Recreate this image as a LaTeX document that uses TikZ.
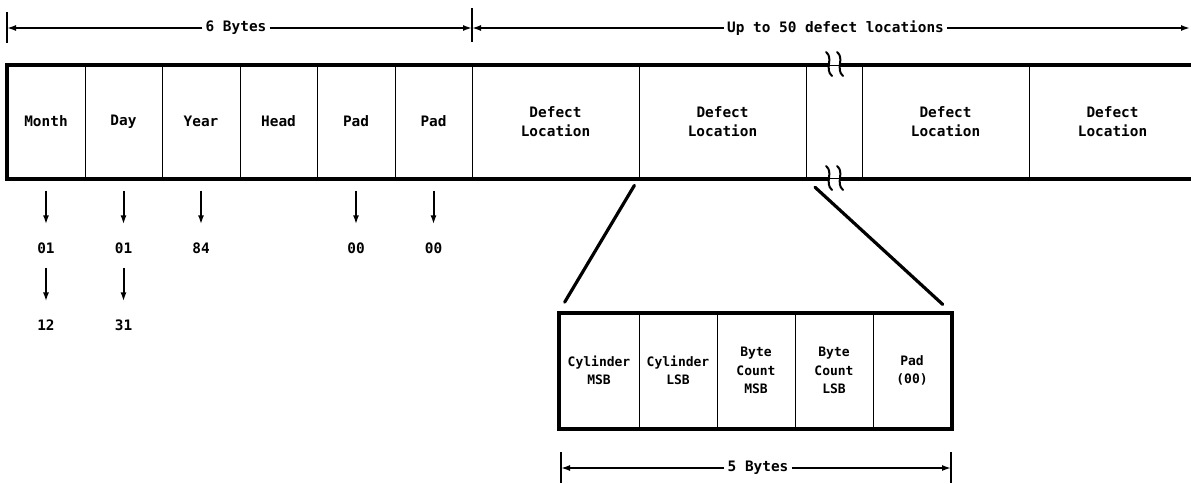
\documentclass[tikz,border=0pt]{standalone}
\usepackage{fontspec}
\usepackage{tikz}
\usetikzlibrary{arrows.meta}
\newfontfamily\dotfont{DejaVu Sans Mono}

\tikzset{
  cell/.style={draw, line width=1pt, minimum height=113pt, inner sep=0pt, align=center, font=\dotfont\bfseries\fontsize{14.4}{19}\selectfont},
  subcell/.style={draw, line width=1pt, minimum height=115pt, inner sep=0pt, align=center, font=\dotfont\bfseries\fontsize{13}{18.5}\selectfont},
  border/.style={line width=4pt},
  value/.style={font=\dotfont\bfseries\fontsize{14.4}{17}\selectfont, inner sep=2pt},
  valarrow/.style={line width=2pt, -{Latex[length=9pt,width=6pt]}, shorten <=12pt, shorten >=16pt},
  dimlabel/.style={font=\dotfont\bfseries\fontsize{14.4}{17}\selectfont, inner sep=3pt},
  dimarrow/.style={line width=1.6pt, -{Latex[length=9pt,width=6pt]}},
  tick/.style={line width=1.6pt},
  zoomline/.style={line width=3.2pt, line cap=round},
  breakmark/.style={line width=2pt, line cap=round}
}

\begin{document}
\begin{tikzpicture}[x=1pt, y=-1pt]
\useasboundingbox (0,0) rectangle (1191,483);
\clip (0,0) rectangle (1191,483);
% record layout
\node[cell, minimum width=78pt] (month) at (46,121.5) {Month};
\node[cell, minimum width=77pt] (day) at (123.5,121.5) {Day};
\node[cell, minimum width=78pt] (year) at (201,121.5) {Year};
\node[cell, minimum width=77pt] (head) at (278.5,121.5) {Head};
\node[cell, minimum width=78pt] (pada) at (356,121.5) {Pad};
\node[cell, minimum width=77pt] (padb) at (433.5,121.5) {Pad};
\node[cell, minimum width=167pt] (dla) at (555.5,121.5) {Defect\\Location};
\node[cell, minimum width=167pt] (dlb) at (722.5,121.5) {Defect\\Location};
\node[cell, minimum width=56pt] (gap) at (834,121.5) {};
\node[cell, minimum width=167pt] (dlc) at (945.5,121.5) {Defect\\Location};
\node[cell, minimum width=167pt] (dld) at (1112.5,121.5) {Defect\\Location};
\draw[border] ([xshift=-6pt]gap.north) -- (month.north west) -- (month.south west) -- ([xshift=-6pt]gap.south);
\draw[border] ([xshift=6pt]gap.north) -- (dld.north east);
\draw[border] ([xshift=6pt]gap.south) -- (dld.south east);
\foreach \bx in {829,840} {
  \draw[breakmark] (\bx-3,52) .. controls (\bx+5,58) and (\bx-5,69) .. (\bx+3,76);
  \draw[breakmark] (\bx-3,166) .. controls (\bx+5,172) and (\bx-5,183) .. (\bx+3,190);
}
% size of the fields
\coordinate (ta) at (7,28);
\coordinate (tb) at (472,28);
\coordinate (tc) at (1190,28);
\draw[tick] ([yshift=16pt]ta) -- ([yshift=-15pt]ta);
\draw[tick] ([yshift=20pt]tb) -- ([yshift=-14pt]tb);
\node[dimlabel] (sixbytes) at (236,28) {6 Bytes};
\node[dimlabel] (uptofifty) at (835.5,28) {Up to 50 defect locations};
\draw[dimarrow] (sixbytes) -- (ta);
\draw[dimarrow] (sixbytes) -- (tb);
\draw[dimarrow] (uptofifty) -- (tb);
\draw[dimarrow] (uptofifty) -- (tc);
% value ranges
\node[value] (mlow) at (46,248) {01};
\node[value] (mhigh) at (46,325) {12};
\node[value] (dlow) at (123.5,248) {01};
\node[value] (dhigh) at (123.5,325) {31};
\node[value] (yval) at (201,248) {84};
\node[value] (paval) at (356,248) {00};
\node[value] (pbval) at (433.5,248) {00};
\draw[valarrow] (month) -- (mlow);
\draw[valarrow] (mlow) -- (mhigh);
\draw[valarrow] (day) -- (dlow);
\draw[valarrow] (dlow) -- (dhigh);
\draw[valarrow] (year) -- (yval);
\draw[valarrow] (pada) -- (paval);
\draw[valarrow] (padb) -- (pbval);
% one defect location
\node[subcell, minimum width=80pt] (cylm) at (599,370.5) {Cylinder\\MSB};
\node[subcell, minimum width=78pt] (cyll) at (678,370.5) {Cylinder\\LSB};
\node[subcell, minimum width=78pt] (bcm) at (756,370.5) {Byte\\Count\\MSB};
\node[subcell, minimum width=78pt] (bcl) at (834,370.5) {Byte\\Count\\LSB};
\node[subcell, minimum width=78pt] (padz) at (912,370.5) {Pad\\(00)};
\draw[border] (cylm.north west) rectangle (padz.south east);
\draw[zoomline, shorten <=8pt, shorten >=12pt] (dlb.south west) -- (cylm.north west);
\draw[zoomline, shorten <=13pt, shorten >=12pt] (gap.south west) -- (padz.north east);
\coordinate (ba) at (561,468);
\coordinate (bb) at (951,468);
\draw[tick] ([yshift=16pt]ba) -- ([yshift=-15pt]ba);
\draw[tick] ([yshift=16pt]bb) -- ([yshift=-15pt]bb);
\node[dimlabel] (fivebytes) at (758,468) {5 Bytes};
\draw[dimarrow] (fivebytes) -- (ba);
\draw[dimarrow] (fivebytes) -- (bb);
\end{tikzpicture}
\end{document}
